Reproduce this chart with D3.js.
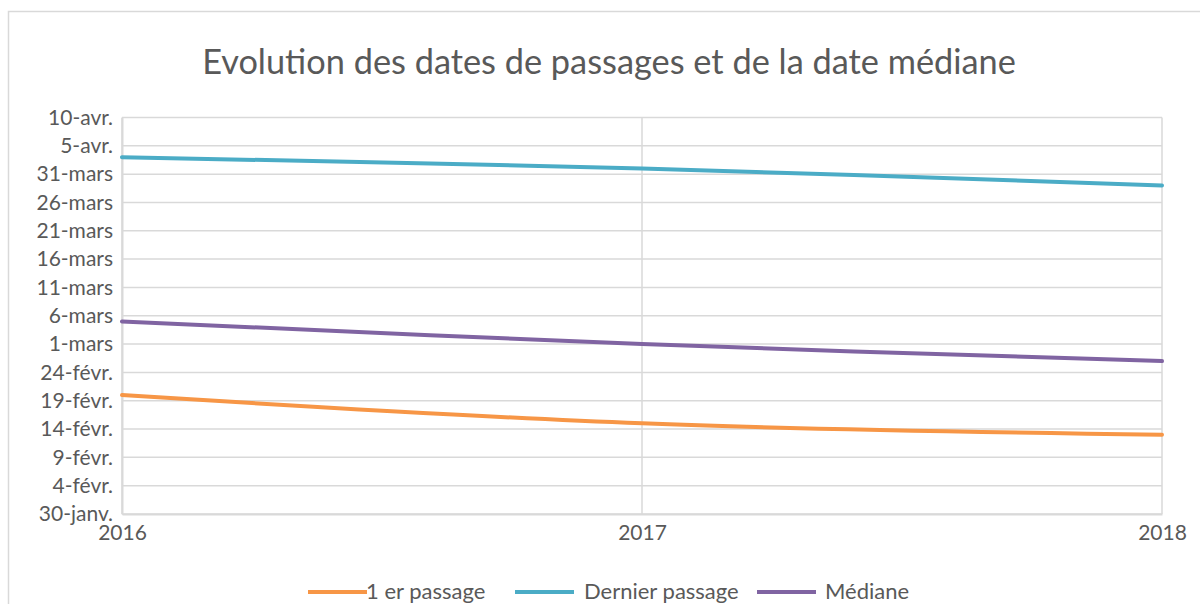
<!DOCTYPE html>
<html>
<head>
<meta charset="utf-8">
<script src="https://cdn.jsdelivr.net/npm/d3@7"></script>
<style>
  html, body { margin: 0; padding: 0; background: #fff; }
  svg { display: block; }
  text { font-family: Lato, "Open Sans", sans-serif; fill: #595959; }
</style>
</head>
<body>
<svg id="chart" width="1200" height="604"></svg>
<script>
// ---- data ----
const years = [2016, 2017, 2018];
const premierPassage = ["02-20", "02-15", "02-13"];
const dernierPassage = ["04-03", "04-01", "03-29"];
const mediane = ["03-05", "03-01", "02-26"];
const seriesNames = ["1 er passage", "Dernier passage", "Médiane"];
const seriesColors = ["#F79646", "#4BACC6", "#8064A2"];
const yTickDates = ["01-30","02-04","02-09","02-14","02-19","02-24","03-01","03-06","03-11","03-16","03-21","03-26","03-31","04-05","04-10"];
const yTickLabels = ["30-janv.","4-févr.","9-févr.","14-févr.","19-févr.","24-févr.","1-mars","6-mars","11-mars","16-mars","21-mars","26-mars","31-mars","5-avr.","10-avr."];
const title = "Evolution des dates de passages et de la date médiane";

// ---- setup ----
const parse = s => d3.timeParse("%Y-%m-%d")("2019-" + s);
const svg = d3.select("#chart");
const pLeft = 122, pRight = 1162, pTop = 117.5, pBottom = 514;

const x = d3.scaleLinear().domain([years[0], years[years.length - 1]]).range([pLeft, pRight]);
const y = d3.scaleTime().domain([parse(yTickDates[0]), parse(yTickDates[yTickDates.length - 1])]).range([pBottom, pTop]);

// outer border
svg.append("rect").attr("x", 8.5).attr("y", 11.5).attr("width", 1200).attr("height", 620)
  .attr("fill", "none").attr("stroke", "#D9D9D9").attr("stroke-width", 1.5);

// title
const t = svg.append("text").attr("x", 609).attr("y", 74).attr("text-anchor", "middle")
  .style("font-size", "32px").text(title);
const tw = t.node().getComputedTextLength();
t.style("font-size", (32 * 814 / tw) + "px");

// horizontal gridlines
const tickVals = yTickDates.map(parse);
svg.append("g").selectAll("line").data(tickVals).join("line")
  .attr("x1", pLeft).attr("x2", pRight)
  .attr("y1", d => y(d)).attr("y2", d => y(d))
  .attr("stroke", "#D9D9D9").attr("stroke-width", 1.5);

// vertical gridlines
svg.append("g").selectAll("line").data(years).join("line")
  .attr("x1", d => x(d)).attr("x2", d => x(d))
  .attr("y1", pTop).attr("y2", pBottom)
  .attr("stroke", "#D9D9D9").attr("stroke-width", 1.5);

// y axis labels
const yAxis = d3.axisLeft(y).tickValues(tickVals).tickSize(0).tickPadding(9)
  .tickFormat((d, i) => yTickLabels[i]);
const gy = svg.append("g").attr("transform", `translate(${pLeft},0)`).call(yAxis);
gy.select(".domain").attr("stroke", "#D9D9D9").attr("stroke-width", 2);
gy.selectAll("text").style("font-size", "21px").style("font-family", "Lato, sans-serif").attr("fill", "#595959");

// x axis labels
const xAxis = d3.axisBottom(x).tickValues(years).tickSize(0).tickPadding(11).tickFormat(d3.format("d"));
const gx = svg.append("g").attr("transform", `translate(0,${pBottom})`).call(xAxis);
gx.select(".domain").attr("stroke", "#D9D9D9").attr("stroke-width", 2);
gx.selectAll("text").style("font-size", "21px").style("font-family", "Lato, sans-serif").attr("fill", "#595959");

// lines
const allSeries = [premierPassage, dernierPassage, mediane];
const line = d3.line().x((d, i) => x(years[i])).y(d => y(parse(d))).curve(d3.curveCatmullRom.alpha(0.5));
svg.append("g").selectAll("path").data(allSeries).join("path")
  .attr("d", d => line(d))
  .attr("fill", "none")
  .attr("stroke", (d, i) => seriesColors[i])
  .attr("stroke-width", 4)
  .attr("stroke-linecap", "round");

// legend
const legendItems = [
  { lx: 308, tx: 366 },
  { lx: 515, tx: 584 },
  { lx: 757, tx: 825 }
];
const lg = svg.append("g");
seriesNames.forEach((name, i) => {
  const it = legendItems[i];
  lg.append("line").attr("x1", it.lx).attr("x2", it.lx + 59).attr("y1", 592).attr("y2", 592)
    .attr("stroke", seriesColors[i]).attr("stroke-width", 4);
  lg.append("text").attr("x", it.tx).attr("y", 599).style("font-size", "22px").text(name);
});
</script>
</body>
</html>
